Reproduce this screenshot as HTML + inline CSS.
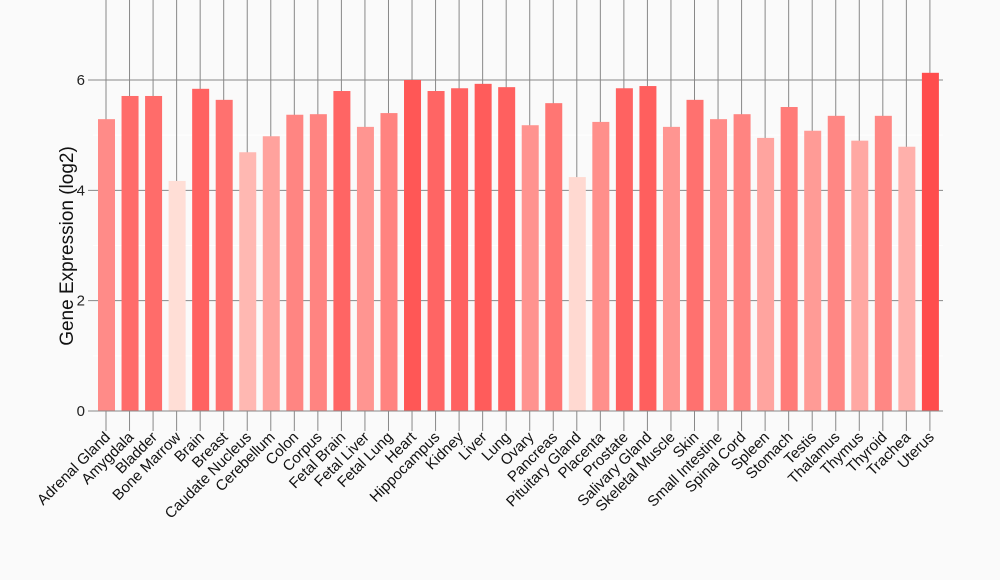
<!DOCTYPE html><html><head><style>body{margin:0;background:#fafafa}svg{display:block}</style></head><body>
<svg id="s" width="1000" height="580" xmlns="http://www.w3.org/2000/svg" font-family="Liberation Sans, sans-serif"></svg>
<script>
const names=["Adrenal Gland","Amygdala","Bladder","Bone Marrow","Brain","Breast","Caudate Nucleus","Cerebellum","Colon","Corpus","Fetal Brain","Fetal Liver","Fetal Lung","Heart","Hippocampus","Kidney","Liver","Lung","Ovary","Pancreas","Pituitary Gland","Placenta","Prostate","Salivary Gland","Skeletal Muscle","Skin","Small Intestine","Spinal Cord","Spleen","Stomach","Testis","Thalamus","Thymus","Thyroid","Trachea","Uterus"];
const v=[5.29,5.71,5.71,4.17,5.84,5.64,4.69,4.98,5.37,5.38,5.8,5.15,5.4,6.0,5.8,5.85,5.93,5.87,5.18,5.58,4.24,5.24,5.85,5.89,5.15,5.64,5.29,5.38,4.95,5.51,5.08,5.35,4.9,5.35,4.79,6.13];
const y0=411,k=55.17,x0=106,dx=23.54;
let h='<rect width="1000" height="580" fill="#fafafa"/>';
for(let g=1;g<=5;g+=2){h+=`<line x1="93" x2="943" y1="${y0-g*k}" y2="${y0-g*k}" stroke="#fff" stroke-width="1"/>`}
for(let i=0;i<36;i++){const x=x0+i*dx;h+=`<line x1="${x}" x2="${x}" y1="0" y2="${y0}" stroke="#888" stroke-width="1"/>`}
for(let g=0;g<=6;g+=2){const y=y0-g*k;h+=`<line x1="88" x2="943" y1="${y}" y2="${y}" stroke="#888"/><text x="85" y="${y+5}" text-anchor="end" font-size="15" fill="#222">${g}</text>`}
for(let i=0;i<36;i++){const x=x0+i*dx;const t=Math.max(0,Math.min(1,(v[i]-4.17)/(6.13-4.17)));
const g=Math.round(222-t*(222-77)),b=Math.round(214-t*(214-77));
h+=`<rect x="${x-8}" y="${y0-v[i]*k}" width="17" height="${v[i]*k}" fill="rgb(255,${g},${b})"/>`;
h+=`<line x1="${x}" x2="${x}" y1="${y0}" y2="${y0+20}" stroke="#888"/>`;
h+=`<text transform="translate(${x+5},${y0+27}) rotate(-45)" text-anchor="end" font-size="15" fill="#111">${names[i]}</text>`}
h+=`<line x1="93" x2="943" y1="${y0}" y2="${y0}" stroke="#888"/>`;
h+=`<text transform="translate(73,246) rotate(-90)" text-anchor="middle" font-size="19" fill="#111">Gene Expression (log2)</text>`;
document.getElementById('s').innerHTML=h;
</script></body></html>
